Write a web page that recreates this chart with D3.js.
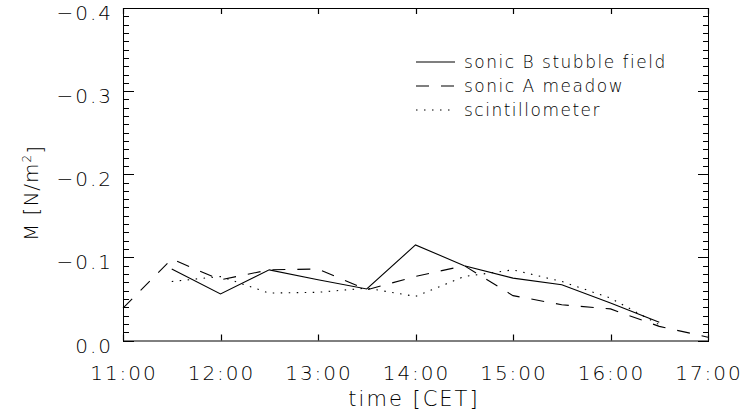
<!DOCTYPE html>
<html>
<head>
<meta charset="utf-8">
<script src="https://cdn.jsdelivr.net/npm/d3@7"></script>
<style>
  body { margin: 0; background: #fff; }
  text { font-family: "DejaVu Sans", sans-serif; font-weight: 200; fill: #000; }
</style>
</head>
<body>
<script>
// data (momentum flux M, N/m^2)
var hoursB = [11.5, 12, 12.5, 13, 13.5, 14, 14.5, 15, 15.5, 16, 16.5];
var sonicB = [-0.086, -0.056, -0.085, -0.073, -0.062, -0.115, -0.090, -0.075, -0.067, -0.045, -0.022];

var hoursA = [11, 11.5, 12, 12.5, 13, 13.5, 14, 14.5, 15, 15.5, 16, 16.5, 17];
var sonicA = [-0.039, -0.098, -0.073, -0.085, -0.086, -0.061, -0.077, -0.090, -0.054, -0.043, -0.038, -0.017, -0.004];

var hoursS = [11.5, 12, 12.5, 13, 13.5, 14, 14.5, 15, 15.5, 16, 16.5];
var scint  = [-0.071, -0.077, -0.057, -0.058, -0.063, -0.053, -0.077, -0.085, -0.071, -0.051, -0.019];

var xTicks = [11, 12, 13, 14, 15, 16, 17];
var xTickLabels = ["11:00", "12:00", "13:00", "14:00", "15:00", "16:00", "17:00"];
var yTicks = [0, -0.1, -0.2, -0.3, -0.4];

var legendNames = ["sonic B stubble field", "sonic A meadow", "scintillometer"];
var legendDash = [null, "13,12", "1.5,6.5"];

////////////////////////////////////////////////////////////////////////////////
var W = 745, H = 414;
var pl = 123, pr = 708, pt = 8, pb = 340.5; // plot box

var svg = d3.select("body").append("svg")
    .attr("width", W)
    .attr("height", H);

var x = d3.scaleLinear().domain([11, 17]).range([pl, pr]);
var y = d3.scaleLinear().domain([0, -0.4]).range([pb, pt]);

var fmt = d3.format(".1f");

// frame
svg.append("rect")
    .attr("x", pl + 0.5).attr("y", pt + 0.5)
    .attr("width", pr - pl).attr("height", pb - pt)
    .attr("fill", "none").attr("stroke", "#000").attr("stroke-width", 1);

// y ticks on both sides, minor every 0.01
var yMinor = d3.range(0, 41).map(function(i) { return { v: -i / 100, major: i % 10 == 0 }; });

function tickPath(d) {
    var yy = Math.round(y(d.v)) + 0.5;
    var len = d.major ? 11 : 6;
    return "M" + pl + "," + yy + "h" + len + "M" + (pr + 1) + "," + yy + "h" + (-len);
}
svg.append("g").selectAll("path").data(yMinor).enter().append("path")
    .attr("d", tickPath)
    .attr("stroke", "#000")
    .attr("stroke-width", 1.2)
    .attr("fill", "none");

// x ticks bottom & top
svg.append("g").selectAll("path").data(xTicks).enter().append("path")
    .attr("d", function(t) {
        var xx = Math.round(x(t)) + 0.5;
        return "M" + xx + "," + pb + "v-6M" + xx + "," + pt + "v6";
    })
    .attr("stroke", "#000")
    .attr("stroke-width", 1.2)
    .attr("fill", "none");

// tick labels
svg.selectAll(".ylab").data(yTicks).enter().append("text")
    .attr("class", "ylab")
    .attr("x", 113)
    .attr("y", function(d) { return y(d) + 5; })
    .attr("dy", "0.35em")
    .attr("text-anchor", "end")
    .style("font-size", "20px")
    .style("letter-spacing", "2px")
    .text(function(d) { return fmt(d); });

svg.selectAll(".xlab").data(xTicks).enter().append("text")
    .attr("class", "xlab")
    .attr("x", function(d) { return x(d) + 1; })
    .attr("y", 380)
    .attr("text-anchor", "middle")
    .style("font-size", "20px")
    .style("letter-spacing", "2px")
    .text(function(d, i) { return xTickLabels[i]; });

// axis titles
svg.append("text")
    .attr("x", 414).attr("y", 406)
    .attr("text-anchor", "middle")
    .style("font-size", "21px")
    .style("letter-spacing", "2px")
    .text("time [CET]");

var yt = svg.append("text")
    .attr("transform", "translate(38,193) rotate(-90)")
    .attr("text-anchor", "middle")
    .style("font-size", "20px")
    .style("letter-spacing", "1px");
yt.append("tspan").text("M [N/m");
yt.append("tspan").attr("dy", "-0.55em").style("font-size", "12px").text("2");
yt.append("tspan").attr("dy", "0.55em").text("]");

// lines
var line = d3.line()
    .x(function(d) { return x(d[0]); })
    .y(function(d) { return y(d[1]); });

var series = [
    {h: hoursB, v: sonicB, dash: legendDash[0]},
    {h: hoursA, v: sonicA, dash: legendDash[1]},
    {h: hoursS, v: scint,  dash: legendDash[2]}
];

svg.selectAll(".series").data(series).enter().append("path")
    .attr("class", "series")
    .attr("d", function(s) { return line(d3.zip(s.h, s.v)); })
    .attr("fill", "none")
    .attr("stroke", "#000")
    .attr("stroke-width", 1.1)
    .attr("stroke-dasharray", function(s) { return s.dash; });

// legend
var leg = svg.selectAll(".leg").data(legendNames).enter().append("g")
    .attr("class", "leg")
    .attr("transform", function(d, i) { return "translate(416," + (62 + i * 24) + ")"; });
leg.append("line")
    .attr("x1", 0).attr("x2", 39)
    .attr("stroke", "#000").attr("stroke-width", 1.1)
    .attr("stroke-dasharray", function(d, i) { return legendDash[i]; });
leg.append("text")
    .attr("x", 48).attr("dy", "0.35em")
    .style("font-size", "17px")
    .style("letter-spacing", "1.5px")
    .text(function(d) { return d; });
</script>
</body>
</html>
